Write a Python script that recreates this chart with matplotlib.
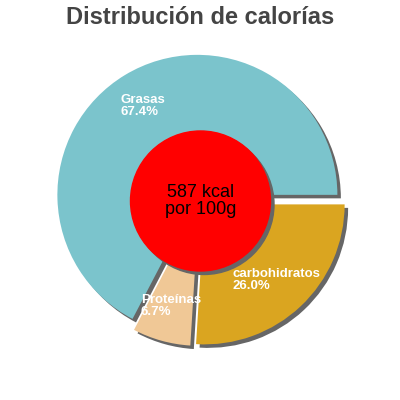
import matplotlib.pyplot as plt
from matplotlib.patches import Circle

# data
labels = ['Grasas', 'Proteínas', 'carbohidratos']
values = [67.4, 6.7, 26.0]
colors = ['#7bc4cc', '#f0c896', '#daa520']
kcal_text = '587 kcal\npor 100g'
title = 'Distribución de calorías'

plt.rcParams['font.family'] = ['Liberation Sans', 'DejaVu Sans']

fig = plt.figure(figsize=(4, 4), dpi=100)
ax = fig.add_axes([0, 0, 1, 1])

explode = [0.043] * len(values)
label_txt = [f'{l}\n{v:.1f}%' for l, v in zip(labels, values)]

# shadow pie (shifted right/down)
sh = 0.025
ax.pie(values, explode=explode, colors=['#666666'] * len(values),
       startangle=0, counterclock=True, radius=1, center=(sh, -sh),
       wedgeprops={'linewidth': 0}, frame=True)

ax.pie(values, explode=explode, colors=colors, labels=label_txt,
       startangle=0, counterclock=True, radius=1, labeldistance=0.745,
       wedgeprops={'linewidth': 0}, frame=True,
       textprops={'color': 'white', 'fontsize': 9.5, 'fontweight': 'bold',
                  'ha': 'center', 'va': 'center', 'multialignment': 'left',
                  'linespacing': 1.02})

# center circle with shadow
ax.add_patch(Circle((0.0 + sh, -0.007 - sh), 0.5, color='#666666', zorder=5))
ax.add_patch(Circle((0.0, -0.007), 0.5, color='#ff0000', zorder=6))
ax.text(0.0, -0.007, kcal_text, ha='center', va='center', fontsize=13,
        color='black', zorder=7, linespacing=1.0)

ax.set_xlim(-200.5 / 140, 199.5 / 140)
ax.set_ylim(-200 / 140, 200 / 140)
ax.set_aspect('equal')
ax.axis('off')

fig.text(0.5, 1 - 18 / 400, title, ha='center', va='center',
         fontsize=17, fontweight='bold', color='#444444')

fig.savefig('out.png', dpi=100)
